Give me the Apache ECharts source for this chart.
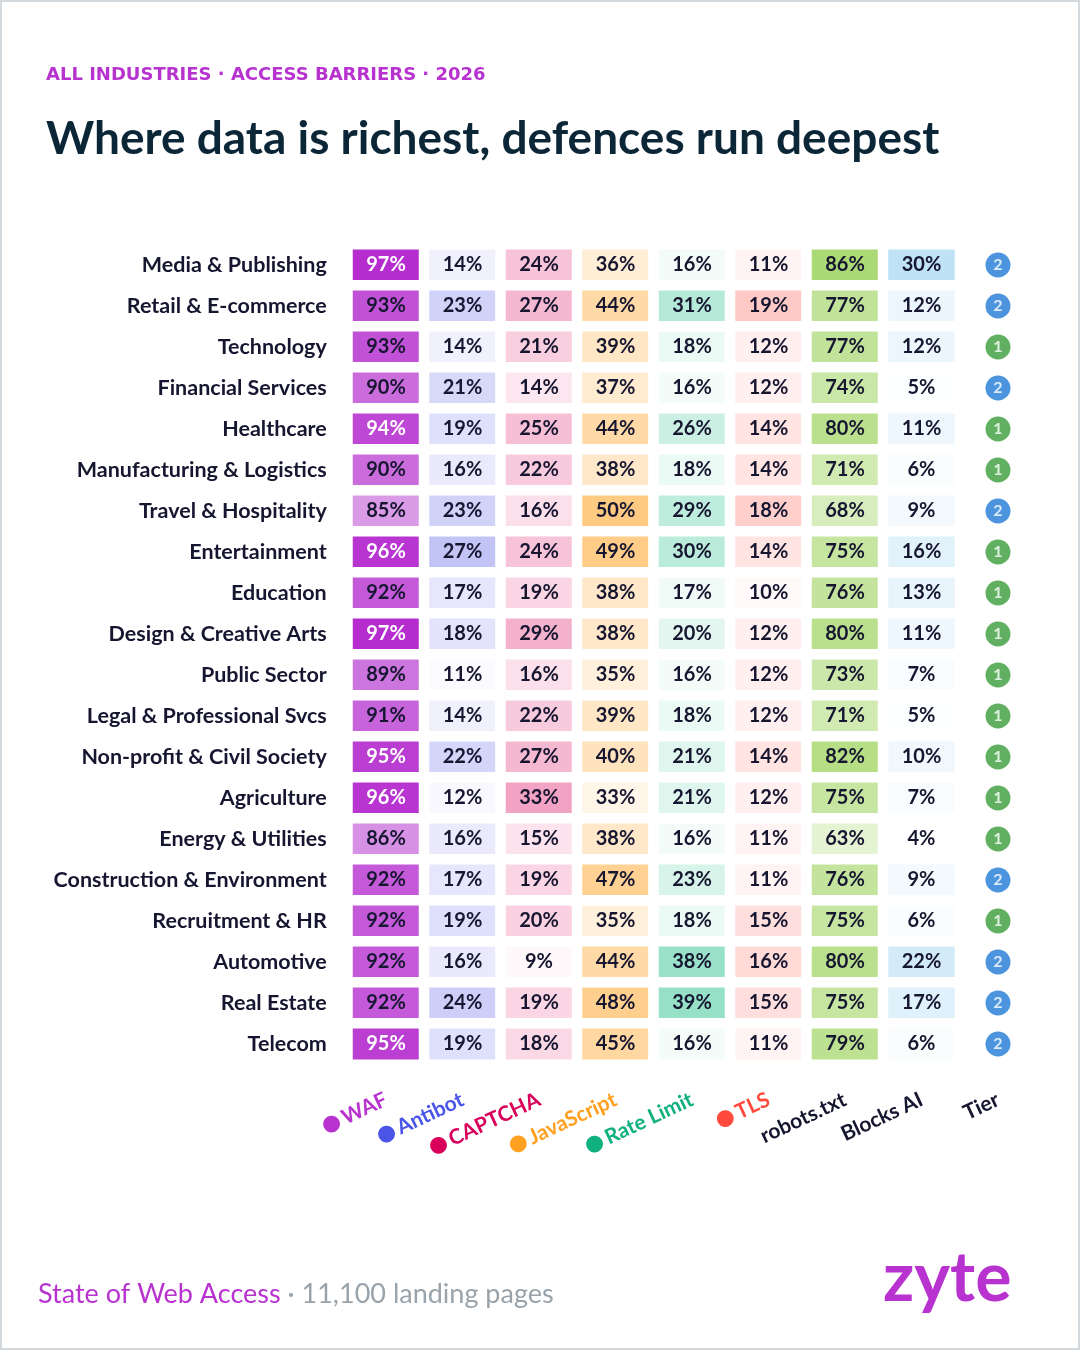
<!DOCTYPE html>
<html>
<head>
<meta charset="utf-8">
<title>Where data is richest, defences run deepest</title>
<script src="https://cdn.jsdelivr.net/npm/echarts@6/dist/echarts.min.js"></script>
<style>
  html, body { margin: 0; padding: 0; background: #fff; }
  #main { width: 1080px; height: 1350px; }
</style>
</head>
<body>
<div id="main"></div>
<script>
// industries, top to bottom
var industries = ['Media & Publishing', 'Retail & E-commerce', 'Technology', 'Financial Services',
    'Healthcare', 'Manufacturing & Logistics', 'Travel & Hospitality', 'Entertainment', 'Education',
    'Design & Creative Arts', 'Public Sector', 'Legal & Professional Svcs', 'Non-profit & Civil Society',
    'Agriculture', 'Energy & Utilities', 'Construction & Environment', 'Recruitment & HR',
    'Automotive', 'Real Estate', 'Telecom'];

var columns = ['WAF', 'Antibot', 'CAPTCHA', 'JavaScript', 'Rate Limit', 'TLS', 'robots.txt', 'Blocks AI', 'Tier'];

// share of landing pages (%) per barrier
var waf       = [97, 93, 93, 90, 94, 90, 85, 96, 92, 97, 89, 91, 95, 96, 86, 92, 92, 92, 92, 95];
var antibot   = [14, 23, 14, 21, 19, 16, 23, 27, 17, 18, 11, 14, 22, 12, 16, 17, 19, 16, 24, 19];
var captcha   = [24, 27, 21, 14, 25, 22, 16, 24, 19, 29, 16, 22, 27, 33, 15, 19, 20, 9, 19, 18];
var javascript = [36, 44, 39, 37, 44, 38, 50, 49, 38, 38, 35, 39, 40, 33, 38, 47, 35, 44, 48, 45];
var rateLimit = [16, 31, 18, 16, 26, 18, 29, 30, 17, 20, 16, 18, 21, 21, 16, 23, 18, 38, 39, 16];
var tls       = [11, 19, 12, 12, 14, 14, 18, 14, 10, 12, 12, 12, 14, 12, 11, 11, 15, 16, 15, 11];
var robots    = [86, 77, 77, 74, 80, 71, 68, 75, 76, 80, 73, 71, 82, 75, 63, 76, 75, 80, 75, 79];
var blocksAI  = [30, 12, 12, 5, 11, 6, 9, 16, 13, 11, 7, 5, 10, 7, 4, 9, 6, 22, 17, 6];
var tier      = [2, 2, 1, 2, 1, 1, 2, 1, 1, 1, 1, 1, 1, 1, 1, 2, 1, 2, 2, 2];

var barrierValues = [waf, antibot, captcha, javascript, rateLimit, tls, robots, blocksAI];

// light -> strong colour for each column's own scale
var ramps = [
    ['#d99ae6', '#b52ccf'],
    ['#fbfbff', '#c3c4f6'],
    ['#fff8fb', '#f2a3c3'],
    ['#fff5e8', '#ffca82'],
    ['#f4fcf9', '#95e0c7'],
    ['#fff9f9', '#ffcac6'],
    ['#e4f3d2', '#abd975'],
    ['#ffffff', '#bfe2f7']
];
var labelColors = ['#b832d0', '#4a55e8', '#d8005a', '#ffa020', '#10b07f', '#ff4a3d', '#161630', '#161630', '#161630'];
var ink = '#161630';
var purple = '#b832d0';

var myChart = echarts.init(document.getElementById('main'));

var series = [];
var visualMaps = [];
barrierValues.forEach(function (vals, c) {
    var data = vals.map(function (v, r) {
        var item = { value: [c, r, v] };
        // dark purple WAF cells get white text
        if (c === 0 && v >= 94) {
            item.label = { color: '#ffffff' };
        }
        return item;
    });
    series.push({
        name: columns[c],
        type: 'heatmap',
        data: data,
        itemStyle: { borderColor: '#ffffff', borderWidth: 10.5 },
        label: {
            show: true,
            formatter: function (p) { return p.value[2] + '%'; },
            color: ink,
            fontFamily: 'Lato',
            fontWeight: 'bold',
            fontSize: 20
        },
        emphasis: { disabled: true }
    });
    visualMaps.push({
        type: 'continuous',
        show: false,
        seriesIndex: c,
        dimension: 2,
        min: Math.min.apply(null, vals),
        max: Math.max.apply(null, vals),
        inRange: { color: ramps[c] }
    });
});

// tier badges
series.push({
    name: 'Tier',
    type: 'scatter',
    symbol: 'circle',
    symbolSize: 25,
    data: tier.map(function (t, r) {
        return { value: [8, r, t], itemStyle: { color: t === 2 ? '#1f7ad6' : '#3a9c3a' } };
    }),
    label: {
        show: true,
        position: 'inside',
        formatter: function (p) { return p.value[2]; },
        color: '#ffffff',
        fontFamily: 'Lato',
        fontWeight: 'bold',
        fontSize: 16
    },
    emphasis: { disabled: true }
});

// rich styles for the rotated column labels
var rich = {};
columns.forEach(function (name, i) {
    rich['d' + i] = { color: labelColors[i], fontSize: 22, fontFamily: 'DejaVu Sans', padding: [0, 3, 0, 0] };
    rich['n' + i] = { color: labelColors[i], fontSize: 21, fontWeight: 'bold', fontFamily: 'Lato' };
});

option = {
    backgroundColor: '#ffffff',
    animation: false,
    title: [{
        text: 'ALL INDUSTRIES · ACCESS BARRIERS · 2026',
        left: 41,
        top: 61,
        textStyle: { color: purple, fontFamily: 'DejaVu Sans', fontWeight: 'bold', fontSize: 18 }
    }, {
        text: 'Where data is richest, defences run deepest',
        left: 41,
        top: 111,
        textStyle: { color: '#0b2637', fontFamily: 'Lato', fontWeight: 'bold', fontSize: 46 }
    }],
    grid: {
        left: 347.75,
        width: 688.5,
        top: 244.5,
        height: 820
    },
    tooltip: { show: false },
    visualMap: visualMaps,
    xAxis: {
        type: 'category',
        data: columns,
        position: 'bottom',
        axisLine: { show: false },
        axisTick: { show: false },
        splitLine: { show: false },
        axisLabel: {
            interval: 0,
            rotate: 25,
            margin: 34,
            formatter: function (v, i) {
                if (i < 6) {
                    return '{d' + i + '|●}{n' + i + '|' + v + '}';
                }
                return '{n' + i + '|' + v + '}';
            },
            rich: rich
        }
    },
    yAxis: {
        type: 'category',
        data: industries,
        inverse: true,
        axisLine: { show: false },
        axisTick: { show: false },
        splitLine: { show: false },
        axisLabel: {
            margin: 21,
            color: ink,
            fontFamily: 'Lato',
            fontWeight: 'bold',
            fontSize: 21.5
        }
    },
    series: series,
    graphic: [{
        type: 'rect',
        shape: { x: 1, y: 1, width: 1078, height: 1348 },
        style: { fill: 'none', stroke: '#d3d9dd', lineWidth: 2 },
        silent: true
    }, {
        type: 'text',
        left: 38,
        top: 1281,
        style: {
            text: '{a|State of Web Access}{b| · 11,100 landing pages}',
            rich: {
                a: { fill: purple, fontFamily: 'Lato', fontSize: 27 },
                b: { fill: '#98a3ab', fontFamily: 'Lato', fontSize: 27 }
            }
        }
    }, {
        type: 'text',
        left: 883,
        top: 1245,
        style: {
            text: 'zyte',
            fill: purple,
            fontFamily: 'Lato',
            fontWeight: 'bold',
            fontSize: 68
        }
    }]
};

myChart.setOption(option);
</script>
</body>
</html>
